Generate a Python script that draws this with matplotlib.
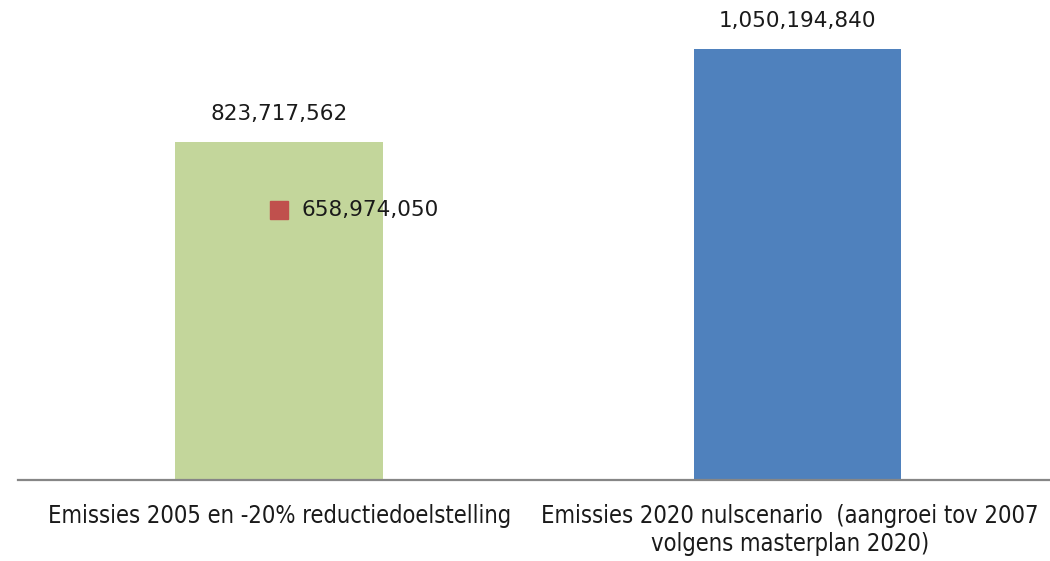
import matplotlib
matplotlib.use("Agg")
import matplotlib.pyplot as plt
from matplotlib.transforms import ScaledTranslation

# Emission totals (ton CO2)
categories = [
    "Emissies 2005 en -20% reductiedoelstelling",
    "Emissies 2020 nulscenario  (aangroei tov 2007\nvolgens masterplan 2020)",
]
emissions = [823717562, 1050194840]
target_value = 658974050          # -20% reduction target on the 2005 bar
bar_colors = ["#C3D69B", "#4F81BD"]
marker_color = "#C0504D"

W, H, DPI = 1050, 561, 100
fig = plt.figure(figsize=(W / DPI, H / DPI), dpi=DPI)

# plot area: baseline 480 px from top, starting 18 px from the left
ax = fig.add_axes([18 / W, (H - 480) / H, (W - 18) / W, 480 / H])

x = range(len(categories))
ax.bar(x, emissions, width=0.40, color=bar_colors, zorder=2)
ax.set_xlim(-0.504, 1.488)
ax.set_ylim(0, 1.1696e9)

val_font = dict(family="DejaVu Sans", fontsize=15.5, color="#1a1a1a")
for xi, v in zip(x, emissions):
    ax.annotate(f"{v:,}", (xi, v), xytext=(0, 20), textcoords="offset points",
                ha="center", va="center", **val_font)

ax.plot([0], [target_value], marker="s", markersize=13, color=marker_color,
        linestyle="none", zorder=3)
ax.annotate(f"{target_value:,}", (0, target_value), xytext=(16, 0),
            textcoords="offset points", ha="left", va="center", **val_font)

# axes styling: only a gray baseline
for side in ("top", "right", "left"):
    ax.spines[side].set_visible(False)
ax.spines["bottom"].set_color("#868686")
ax.spines["bottom"].set_linewidth(1.6)
ax.set_yticks([])
ax.set_xticks(list(x))
ax.set_xticklabels(categories, fontfamily="DejaVu Sans", fontstretch="condensed",
                   fontsize=17, color="#1a1a1a", linespacing=1.25)
ax.tick_params(axis="x", length=0, pad=17)

# keep the wide second label inside the figure
lbl = ax.get_xticklabels()[1]
lbl.set_transform(lbl.get_transform() + ScaledTranslation(-7 / DPI, 0, fig.dpi_scale_trans))

fig.savefig("out.png", dpi=DPI, facecolor="white")
